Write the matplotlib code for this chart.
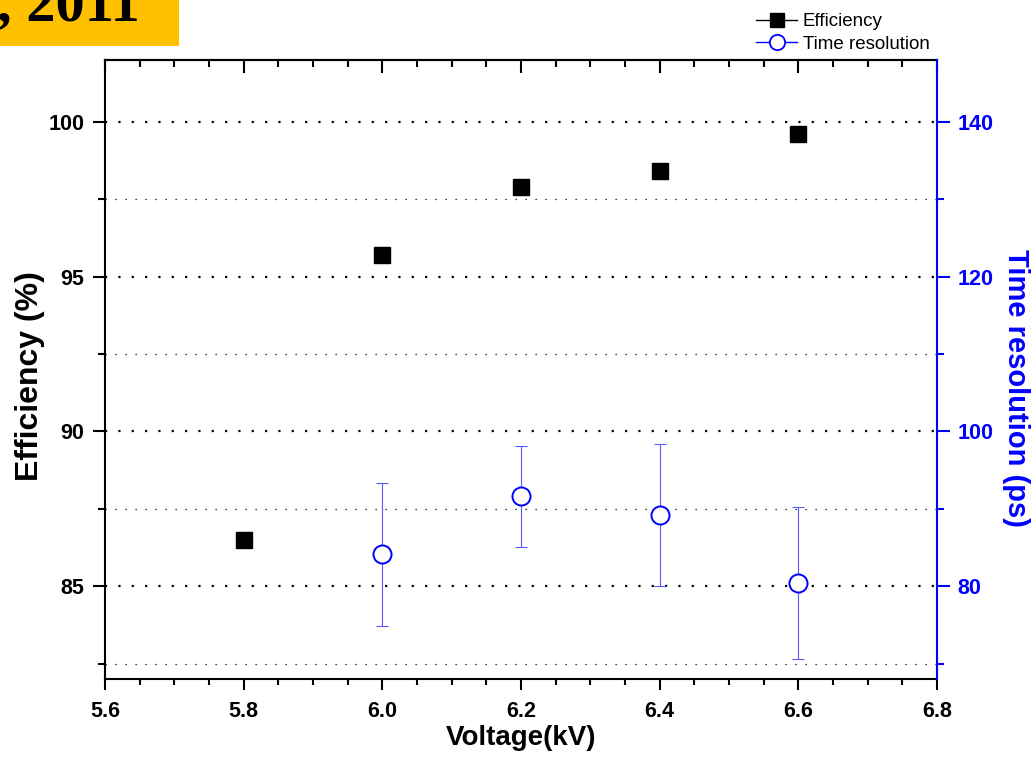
import matplotlib
matplotlib.use('Agg')
import matplotlib.pyplot as plt
from matplotlib.ticker import MultipleLocator
from matplotlib.lines import Line2D
from matplotlib.patches import Rectangle

# data
volt_eff = [5.8, 6.0, 6.2, 6.4, 6.6]
eff = [86.5, 95.7, 97.9, 98.4, 99.6]

volt_tr = [6.0, 6.2, 6.4, 6.6]
tr = [84.1, 91.6, 89.2, 80.4]
tr_err = [9.2, 6.5, 9.2, 9.8]

plt.rcParams['font.family'] = ['Liberation Sans', 'DejaVu Sans']

W, H = 1032, 757
fig = plt.figure(figsize=(W / 100, H / 100), dpi=100)
ax = fig.add_axes([105 / W, 1 - 679 / H, (937 - 105) / W, (679 - 60) / H])
ax2 = ax.twinx()

# yellow banner in the top-left corner
fig.patches.append(Rectangle((0, 1 - 46 / H), 179 / W, 46 / H, transform=fig.transFigure,
                             facecolor='#FFC000', edgecolor='none', zorder=0))
fig.text(-3 / W, 1 - 21 / H, ', 2011', fontsize=42, fontweight='bold',
         family=['Liberation Serif', 'DejaVu Serif'], va='baseline', ha='left')

# efficiency
ax.plot(volt_eff, eff, 's', color='black', ms=12, zorder=3)
ax.set_xlim(5.6, 6.8)
ax.set_ylim(82, 102)
ax.xaxis.set_major_locator(MultipleLocator(0.2))
ax.xaxis.set_minor_locator(MultipleLocator(0.05))
ax.yaxis.set_major_locator(MultipleLocator(5))
ax.yaxis.set_minor_locator(MultipleLocator(2.5))
ax.xaxis.set_major_formatter(plt.FormatStrFormatter('%.1f'))

ax.grid(which='major', axis='y', color='black', lw=1.6, linestyle=(0, (1, 5)))
ax.grid(which='minor', axis='y', color='black', lw=0.9, linestyle=(0, (1, 7)))
ax.grid(which='both', axis='x', visible=False)

ax.tick_params(axis='x', which='major', direction='out', length=8, width=1.5,
               labelsize=15.5, pad=8)
ax.tick_params(axis='x', which='minor', direction='out', length=4.5, width=1.5)
ax.tick_params(axis='y', which='major', direction='out', length=9, width=1.5,
               labelsize=15.5, pad=6)
ax.tick_params(axis='y', which='minor', direction='out', length=5, width=1.5)
for lab in ax.get_xticklabels() + ax.get_yticklabels():
    lab.set_fontweight('bold')

for s in ['left', 'bottom', 'top']:
    ax.spines[s].set_linewidth(1.5)
ax.spines['right'].set_visible(False)

top = ax.secondary_xaxis('top')
top.xaxis.set_major_locator(MultipleLocator(0.2))
top.xaxis.set_minor_locator(MultipleLocator(0.05))
top.tick_params(axis='x', which='major', direction='in', length=9, width=1.5, labeltop=False)
top.tick_params(axis='x', which='minor', direction='in', length=5, width=1.5)
top.spines['top'].set_linewidth(1.5)

ax.set_xlabel('Voltage(kV)', fontsize=20, fontweight='bold', labelpad=2)
ax.set_ylabel('Efficiency (%)', fontsize=23, fontweight='bold', va='center', ha='center')
ax.yaxis.set_label_coords((30 - 105) / 832, 0.49)

# time resolution
ax2.errorbar(volt_tr, tr, yerr=tr_err, fmt='none', ecolor='#5a5aff', elinewidth=0.8,
             capsize=4.5, capthick=0.8, zorder=2)
ax2.plot(volt_tr, tr, 'o', ms=13, mfc='white', mec='blue', mew=1.4, zorder=3)
ax2.set_ylim(68, 148)
ax2.yaxis.set_major_locator(MultipleLocator(20))
ax2.yaxis.set_minor_locator(MultipleLocator(10))
ax2.tick_params(axis='y', which='major', direction='out', length=9, width=1.5,
                colors='blue', labelsize=15.5, pad=6)
ax2.tick_params(axis='y', which='minor', direction='out', length=5, width=1.5, colors='blue')
for lab in ax2.get_yticklabels():
    lab.set_fontweight('bold')
for s in ['left', 'bottom', 'top']:
    ax2.spines[s].set_visible(False)
ax2.spines['right'].set_color('blue')
ax2.spines['right'].set_linewidth(1.5)
ax2.set_ylabel('Time resolution (ps)', fontsize=21, fontweight='bold', color='blue',
               rotation=-90, va='center', ha='center')
ax2.yaxis.set_label_coords((1016 - 105) / 832, 0.47)

handles = [
    Line2D([], [], color='black', lw=1, marker='s', ms=10),
    Line2D([], [], color='blue', lw=1, marker='o', ms=11, mfc='white', mec='blue', mew=1.3),
]
fig.legend(handles, ['Efficiency', 'Time resolution'], loc='upper left',
           bbox_to_anchor=(756 / W, 1 - 13 / H), frameon=False, fontsize=13.5,
           handlelength=2.2, handletextpad=0.3, labelspacing=0.3,
           borderpad=0, borderaxespad=0)

fig.savefig('out.png', dpi=100)
